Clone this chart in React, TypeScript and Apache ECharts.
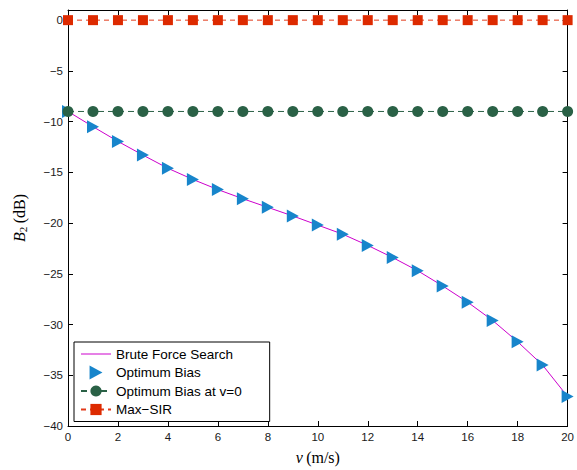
import React, { useEffect, useRef } from 'react';
import * as echarts from 'echarts';

const speeds = [0, 1, 2, 3, 4, 5, 6, 7, 8, 9, 10, 11, 12, 13, 14, 15, 16, 17, 18, 19, 20];
const bruteForce = [-9.0, -10.5, -11.95, -13.3, -14.6, -15.7, -16.7, -17.6, -18.45, -19.3, -20.2, -21.1, -22.2, -23.4, -24.7, -26.2, -27.8, -29.6, -31.7, -34.0, -37.1];
const optimumBias = [-9.0, -10.5, -11.95, -13.3, -14.6, -15.7, -16.7, -17.6, -18.45, -19.3, -20.2, -21.1, -22.2, -23.4, -24.7, -26.2, -27.8, -29.6, -31.7, -34.0, -37.1];
const biasAtZero = [-9, -9, -9, -9, -9, -9, -9, -9, -9, -9, -9, -9, -9, -9, -9, -9, -9, -9, -9, -9, -9];
const maxSir = [0, 0, 0, 0, 0, 0, 0, 0, 0, 0, 0, 0, 0, 0, 0, 0, 0, 0, 0, 0, 0];
const seriesNames = ['Brute Force Search', 'Optimum Bias', 'Optimum Bias at v=0', 'Max\u2212SIR'];

const pairs = (ys: number[]) => speeds.map((x, i) => [x, ys[i]]);

const SANS = 'Liberation Sans, Arial, sans-serif';
const SERIF = 'Liberation Serif, DejaVu Serif, serif';
const fmt = (v: number) => String(v).replace('-', '\u2212');

export default function App() {
  const ref = useRef<HTMLDivElement>(null);
  useEffect(() => {
    if (!ref.current) return;
    const chart = echarts.init(ref.current, null, { renderer: 'svg' });
    const axisLine = { show: true, onZero: false, lineStyle: { color: '#000', width: 1 } };
    const tick = { show: true, inside: true, length: 5, lineStyle: { color: '#000', width: 1 } };
    chart.setOption({
      animation: false,
      backgroundColor: '#fff',
      grid: { left: 68, right: 5, top: 10, bottom: 42, containLabel: false },
      xAxis: [
        {
          type: 'value', min: 0, max: 20, interval: 2, position: 'bottom',
          axisLine, axisTick: tick, splitLine: { show: false },
          axisLabel: { margin: 5, color: '#1a1a1a', fontFamily: SANS, fontSize: 11.5, formatter: fmt },
          name: '{i|v} {n|(m/s)}', nameLocation: 'middle', nameGap: 23,
          nameTextStyle: {
            rich: {
              i: { fontFamily: SERIF, fontStyle: 'italic', fontSize: 16, color: '#000' },
              n: { fontFamily: SERIF, fontSize: 16, color: '#000' },
            },
          },
        },
        {
          type: 'value', min: 0, max: 20, interval: 2, position: 'top',
          axisLine, axisTick: tick, axisLabel: { show: false }, splitLine: { show: false },
        },
      ],
      yAxis: [
        {
          type: 'value', min: -40, max: 1, interval: 5, position: 'left',
          axisLine, axisTick: tick, splitLine: { show: false },
          axisLabel: {
            margin: 5, color: '#1a1a1a', fontFamily: SANS, fontSize: 11.5, showMaxLabel: false,
            formatter: (v: number) => (v > 0 ? '' : fmt(v)),
          },
          name: '{i|B}{s|2} {n|(dB)}', nameLocation: 'middle', nameGap: 40, nameRotate: 90,
          nameTextStyle: {
            rich: {
              i: { fontFamily: SERIF, fontStyle: 'italic', fontSize: 16, color: '#000' },
              s: { fontFamily: SERIF, fontSize: 11, color: '#000', padding: [7, 0, 0, 0] },
              n: { fontFamily: SERIF, fontSize: 16, color: '#000' },
            },
          },
        },
        {
          type: 'value', min: -40, max: 1, interval: 5, position: 'right',
          axisLine, axisTick: tick, axisLabel: { show: false }, splitLine: { show: false },
        },
      ],
      legend: {
        orient: 'vertical', left: 74, top: 342,
        padding: [5, 28, 5, 6], itemWidth: 30, itemHeight: 14, itemGap: 4.5,
        borderColor: '#000', borderWidth: 1, backgroundColor: '#fff',
        selectedMode: false,
        textStyle: { fontFamily: SANS, fontSize: 13.5, color: '#000' },
        data: [
          { name: seriesNames[0], icon: 'path://M0,0 L30,0 L30,1 L0,1 Z', itemStyle: { color: '#CC00CC' } },
          { name: seriesNames[1] },
          { name: seriesNames[2] },
          { name: seriesNames[3] },
        ],
      },
      series: [
        {
          name: seriesNames[0], type: 'line', data: pairs(bruteForce), symbol: 'none',
          lineStyle: { color: '#CC00CC', width: 1 }, itemStyle: { color: '#CC00CC' }, z: 2,
        },
        {
          name: seriesNames[1], type: 'scatter', data: pairs(optimumBias),
          symbol: 'path://M0,0 L12,6.5 L0,13 Z', symbolSize: [12, 13],
          itemStyle: { color: '#1785CB', opacity: 1 }, z: 3,
        },
        {
          name: seriesNames[2], type: 'line', data: pairs(biasAtZero), symbol: 'circle', symbolSize: 11,
          showAllSymbol: true,
          lineStyle: { color: '#2A6146', width: 1, type: [6, 4] }, itemStyle: { color: '#2A6146' }, z: 4,
        },
        {
          name: seriesNames[3], type: 'line', data: pairs(maxSir), symbol: 'rect', symbolSize: 10,
          showAllSymbol: true, clip: false,
          lineStyle: { color: '#E23A1A', width: 1, type: [5, 4] }, itemStyle: { color: '#DD2A00' }, z: 5,
        },
      ],
    });
    return () => chart.dispose();
  }, []);
  return <div ref={ref} style={{ position: 'fixed', left: 0, top: 0, width: 577, height: 470 }} />;
}
